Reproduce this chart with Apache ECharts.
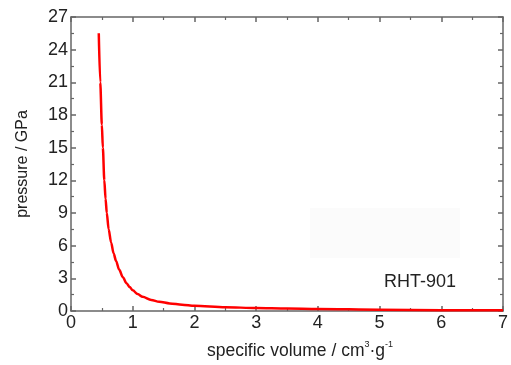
<!DOCTYPE html>
<html>
<head>
<meta charset="utf-8">
<script src="https://cdn.jsdelivr.net/npm/echarts@6/dist/echarts.min.js"></script>
<style>html,body{margin:0;padding:0;background:#fff}#c{width:511px;height:365px}</style>
</head>
<body>
<div id="c"></div>
<script>
var volume = [0.45, 0.474, 0.5, 0.516, 0.54, 0.56, 0.58, 0.61, 0.65, 0.69, 0.73, 0.78, 0.84, 0.9, 0.95, 1.0, 1.08, 1.16, 1.3, 1.43, 1.6, 1.8, 2.0, 2.5, 3.0, 3.5, 4.0, 5.0, 6.0, 7.0];
var pressure = [25.5, 21, 17.1, 15, 12, 10.3, 9, 7.5, 6.3, 5.3, 4.6, 3.8, 3.1, 2.55, 2.2, 1.9, 1.55, 1.3, 1.02, 0.85, 0.7, 0.58, 0.48, 0.35, 0.27, 0.22, 0.18, 0.12, 0.08, 0.06];
var seriesName = 'RHT-901';
var xTitle = 'specific volume / cm';
var yTitle = 'pressure / GPa';

var pts = volume.map(function (v, i) { return [v, pressure[i]]; });
var font = 'Liberation Sans, Arial, sans-serif';
var axisColor = '#666';
function axisCommon(extra) {
  var o = {
    type: 'value',
    axisLine: { show: true, onZero: false, lineStyle: { color: axisColor, width: 1.5 } },
    axisTick: { show: true, inside: true, length: 5, lineStyle: { color: axisColor, width: 1.5 } },
    minorTick: { show: true, splitNumber: 2, length: 3, lineStyle: { color: axisColor, width: 1.2 } },
    splitLine: { show: false }
  };
  for (var k in extra) o[k] = extra[k];
  return o;
}
var chart = echarts.init(document.getElementById('c'), null, { renderer: 'canvas' });
chart.setOption({
  animation: false,
  grid: { left: 71, right: 6, top: 17, bottom: 51, containLabel: false },
  xAxis: [
    axisCommon({ min: 0, max: 7, interval: 1, position: 'bottom',
      axisLabel: { color: '#222', fontSize: 18, fontFamily: font, margin: 3 },
      name: '{m|' + xTitle + '}{s|3}{m|·g}{s|-1}', nameLocation: 'middle', nameGap: 29,
      nameTextStyle: { padding: [0, 0, 0, 26], rich: {
        m: { fontSize: 17.5, fontFamily: font, color: '#222', lineHeight: 20, verticalAlign: 'bottom' },
        s: { fontSize: 9, fontFamily: font, color: '#222', lineHeight: 20, verticalAlign: 'top' }
      } } }),
    axisCommon({ min: 0, max: 7, interval: 1, position: 'top', axisLabel: { show: false } })
  ],
  yAxis: [
    axisCommon({ min: 0, max: 27, interval: 3, position: 'left',
      axisLabel: { color: '#222', fontSize: 18, fontFamily: font, margin: 3 },
      name: yTitle, nameLocation: 'middle', nameGap: 40,
      nameTextStyle: { fontSize: 16, fontFamily: font, color: '#222' } }),
    axisCommon({ min: 0, max: 27, interval: 3, position: 'right', axisLabel: { show: false } })
  ],
  graphic: [
    { type: 'rect', shape: { x: 310, y: 208, width: 150, height: 50 }, style: { fill: '#fbfbfb' }, z: -1 },
    { type: 'text', x: 384, y: 282, style: { text: seriesName, fontSize: 18, fontFamily: font, fill: '#222', verticalAlign: 'middle' } }
  ],
  series: [{
    name: seriesName, type: 'line', data: pts, smooth: 0.3, smoothMonotone: 'x', showSymbol: false,
    lineStyle: { color: '#ff0000', width: 2.5 }, clip: true
  }]
});
</script>
</body>
</html>
